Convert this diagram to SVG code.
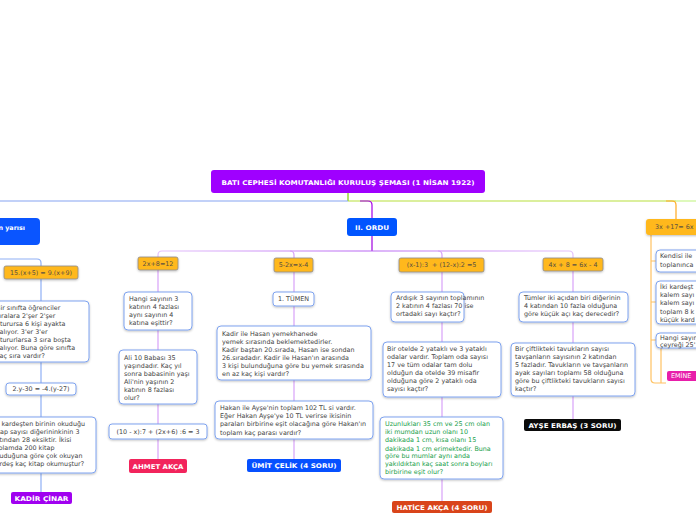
<svg xmlns="http://www.w3.org/2000/svg" width="696" height="520" viewBox="0 0 696 520">
<defs>
<filter id="sh" x="-10%" y="-20%" width="120%" height="150%"><feDropShadow dx="0" dy="1" stdDeviation="0.8" flood-color="#000" flood-opacity="0.25"/></filter>
<linearGradient id="pg" x1="158" y1="0" x2="573" y2="0" gradientUnits="userSpaceOnUse">
<stop offset="0" stop-color="#e4c2fb"/><stop offset="0.5" stop-color="#b866f2"/><stop offset="1" stop-color="#e4c2fb"/>
</linearGradient>
</defs>
<style>
text{font-family:"DejaVu Sans",Verdana,sans-serif;font-size:6.4px;fill:#444}
.q{fill:#fff;stroke:#7fa3ef;stroke-width:1;filter:url(#sh)}
.h{fill:#ffb81c;stroke:#8e8a8a;stroke-width:0.8;filter:url(#sh)}
.ht{fill:#5a5040}
.w{fill:#fff;font-weight:bold}
.g{fill:#18a04a}
.c{fill:none;stroke-width:1.2}
</style>
<rect width="696" height="520" fill="#fff"/>
<g id="connectors">
<path class="c" d="M348,193 V201" stroke="#7fd000" stroke-width="1.5"/>
<path class="c" d="M348,201 H0" stroke="#85a3f2" stroke-width="2"/>
<path class="c" d="M348,201 H676" stroke="#b7e03c" stroke-width="2"/>
<path class="c" d="M676,201 H696" stroke="#c9f58f" stroke-width="2"/>
<path class="c" d="M360,201 H368 Q372,201 372,205 V218" stroke="#a400e8" stroke-width="1.5"/>
<path class="c" d="M666,201 H672 Q676,201 676,205 V219" stroke="#ffaa22" stroke-width="1.5"/>
<path class="c" d="M372,236 V251" stroke="#a000e0" stroke-width="1.5"/>
<path class="c" d="M158,258 V255 Q158,251 162,251 H569 Q573,251 573,255 V258" stroke="url(#pg)" stroke-width="1.5"/>
<path class="c" d="M290,251 Q294,251 294,255 V258" stroke="#d6a0f8"/>
<path class="c" d="M438,251 Q442,251 442,255 V258" stroke="#d6a0f8"/>
<path class="c" d="M158,270 V459" stroke="#d8a2f8"/>
<path class="c" d="M294,272 V459" stroke="#d8a2f8"/>
<path class="c" d="M442,272 V501" stroke="#d8a2f8"/>
<path class="c" d="M573,271 V419" stroke="#d8a2f8"/>
<path class="c" d="M0,259 H37 Q41,259 41,263 V492" stroke="#8fb0f5" stroke-width="1"/>
<path class="c" d="M651,235 V379 Q651,383 655,383 H666" stroke="#ffc262" stroke-width="1"/>
<path class="c" d="M651,261 H656 M651,302 H656 M651,340 H656" stroke="#ffc262" stroke-width="1"/>
<path class="c" d="M661,348 V383" stroke="#ffc262" stroke-width="1"/>
</g>
<g id="root">
<rect x="211" y="170" width="274" height="23" rx="3" fill="#9f00ff"/>
<text class="w" x="348" y="184.5" text-anchor="middle" font-size="7" textLength="253" lengthAdjust="spacingAndGlyphs">BATI CEPHESİ KOMUTANLIĞI KURULUŞ ŞEMASI (1 NİSAN 1922)</text>
</g>
<g id="left-head">
<rect x="-10" y="218" width="50" height="27" rx="4" fill="#0a55ff"/>
<text class="w" x="25" y="230" text-anchor="end" font-size="6.8">n yarısı</text>
</g>
<g id="l1"><rect class="h" x="4" y="266" width="74" height="13" rx="2"/><text class="ht" x="41" y="274.8" text-anchor="middle">15.(x+5) = 9.(x+9)</text></g>
<g id="l2"><rect class="q" x="-10" y="301" width="99" height="61" rx="4"/>
<text x="-4" y="309.5">Bir sınıfta öğrenciler</text>
<text x="-4" y="317.5">sıralara 2'şer 2'şer</text>
<text x="-4" y="325.8">oturursa 6 kişi ayakta</text>
<text x="-4" y="334">kalıyor. 3'er 3'er</text>
<text x="-4" y="342">otururlarsa 3 sıra boşta</text>
<text x="-4" y="350">kalıyor. Buna göre sınıfta</text>
<text x="-4" y="358">kaç sıra vardır?</text>
</g>
<g id="l3"><rect class="q" x="6" y="383" width="70" height="12" rx="3"/><text x="41" y="391.3" text-anchor="middle">2.y-30 = -4.(y-27)</text></g>
<g id="l4"><rect class="q" x="-14" y="417" width="110" height="56" rx="4"/>
<text x="-8" y="426.3">İki kardeşten birinin okuduğu</text>
<text x="-8" y="434.3">kitap sayısı diğerininkinin 3</text>
<text x="-8" y="442.3">katından 28 eksiktir. İkisi</text>
<text x="-8" y="450.3">toplamda 200 kitap</text>
<text x="-8" y="458.3">okuduğuna göre çok okuyan</text>
<text x="-8" y="466.3">kardeş kaç kitap okumuştur?</text>
</g>
<g id="l5"><rect x="11" y="492" width="61" height="12" rx="2" fill="#a000f0"/><text class="w" x="41.5" y="500.5" text-anchor="middle" textLength="54" lengthAdjust="spacingAndGlyphs">KADİR ÇİNAR</text></g>
<g id="ordu">
<rect x="347" y="218" width="50" height="18" rx="3" fill="#0055ff"/>
<text class="w" x="372" y="229.6" text-anchor="middle" font-size="7.2" textLength="34" lengthAdjust="spacingAndGlyphs">II. ORDU</text>
</g>
<g id="c1h"><rect class="h" x="138" y="257" width="40" height="13" rx="2"/><text class="ht" x="158" y="265.8" text-anchor="middle">2x+8=12</text></g>
<g id="c1a"><rect class="q" x="124" y="292" width="68" height="38" rx="4"/>
<text x="129" y="301.3">Hangi sayının 3</text>
<text x="129" y="309.3">katının 4 fazlası</text>
<text x="129" y="317">aynı sayının 4</text>
<text x="129" y="325">katına eşittir?</text>
</g>
<g id="c1b"><rect class="q" x="119" y="350" width="78" height="54" rx="4"/>
<text x="124" y="359.5">Ali 10 Babası 35</text>
<text x="124" y="367.5">yaşındadır. Kaç yıl</text>
<text x="124" y="375.5">sonra babasinin yaşı</text>
<text x="124" y="383.5">Ali'nin yaşının 2</text>
<text x="124" y="391.8">katının 8 fazlası</text>
<text x="124" y="399.5">olur?</text>
</g>
<g id="c1c"><rect class="q" x="109" y="424" width="98" height="15" rx="3"/><text x="158" y="433.8" text-anchor="middle">(10 - x):7 + (2x+6) :6 = 3</text></g>
<g id="c1d"><rect x="129" y="459" width="58" height="14" rx="2" fill="#f2245c"/><text class="w" x="158" y="468.6" text-anchor="middle" textLength="51" lengthAdjust="spacingAndGlyphs">AHMET AKÇA</text></g>
<g id="c2h"><rect class="h" x="274" y="258" width="39" height="14" rx="2"/><text class="ht" x="293.5" y="267.3" text-anchor="middle">5-2x=x-4</text></g>
<g id="c2a"><rect class="q" x="273" y="292" width="41" height="14" rx="3"/><text x="293.5" y="301.3" text-anchor="middle">1. TÜMEN</text></g>
<g id="c2b"><rect class="q" x="217" y="326" width="154" height="54" rx="4"/>
<text x="222" y="336.3">Kadir ile Hasan yemekhanede</text>
<text x="222" y="344.3">yemek sırasında beklemektedirler.</text>
<text x="222" y="352.3">Kadir baştan 20.sırada, Hasan ise sondan</text>
<text x="222" y="360.3">26.sıradadır. Kadir ile Hasan'ın arasında</text>
<text x="222" y="368.3">3 kişi bulunduğuna göre bu yemek sırasında</text>
<text x="222" y="376.3">en az kaç kişi vardır?</text>
</g>
<g id="c2c"><rect class="q" x="215" y="401" width="158" height="38" rx="4"/>
<text x="220" y="410.3">Hakan ile Ayşe'nin toplam 102 TL si vardır.</text>
<text x="220" y="418.3">Eğer Hakan Ayşe'ye 10 TL verirse ikisinin</text>
<text x="220" y="426.3">paraları birbirine eşit olacağına göre Hakan'ın</text>
<text x="220" y="434.5">toplam kaç parası vardır?</text>
</g>
<g id="c2d"><rect x="247" y="459" width="94" height="13" rx="2" fill="#0650ff"/><text class="w" x="294" y="468" text-anchor="middle" textLength="85" lengthAdjust="spacingAndGlyphs">ÜMİT ÇELİK (4 SORU)</text></g>
<g id="c3h"><rect class="h" x="399" y="258" width="85" height="14" rx="2"/><text class="ht" x="441.5" y="267.3" text-anchor="middle" xml:space="preserve">(x-1):3  + (12-x):2 =5</text></g>
<g id="c3a"><rect class="q" x="391" y="292" width="73" height="30" rx="4"/>
<text x="396" y="300.3">Ardışık 3 sayının toplamının</text>
<text x="396" y="308.3">2 katının 4 fazlası 70 ise</text>
<text x="396" y="316.3">ortadaki sayı kaçtır?</text>
</g>
<g id="c3b"><rect class="q" x="383" y="342" width="118" height="55" rx="4"/>
<text x="387" y="351.3">Bir otelde 2 yataklı ve 3 yataklı</text>
<text x="387" y="359.3">odalar vardır. Toplam oda sayısı</text>
<text x="387" y="367.3">17 ve tüm odalar tam dolu</text>
<text x="387" y="375.3">olduğun da otelde 39 misafir</text>
<text x="387" y="383.3">olduğuna göre 2 yataklı oda</text>
<text x="387" y="391.3">sayısı kaçtır?</text>
</g>
<g id="c3c"><rect class="q" x="380" y="417" width="123" height="62" rx="4"/>
<text class="g" x="385" y="425.6">Uzunlukları 35 cm ve 25 cm olan</text>
<text class="g" x="385" y="434">iki mumdan uzun olanı 10</text>
<text class="g" x="385" y="442.3">dakikada 1 cm, kısa olanı 15</text>
<text class="g" x="385" y="450.6">dakikada 1 cm erimektedir. Buna</text>
<text class="g" x="385" y="458.3">göre bu mumlar aynı anda</text>
<text class="g" x="385" y="466.3">yakıldıktan kaç saat sonra boyları</text>
<text class="g" x="385" y="474">birbirine eşit olur?</text>
</g>
<g id="c3d"><rect x="392" y="501" width="100" height="12" rx="2" fill="#d9441a"/><text class="w" x="442" y="509.5" text-anchor="middle" textLength="91" lengthAdjust="spacingAndGlyphs">HATİCE AKÇA (4 SORU)</text></g>
<g id="c4h"><rect class="h" x="543" y="258" width="60" height="13" rx="2"/><text class="ht" x="573" y="266.8" text-anchor="middle">4x + 8 = 6x - 4</text></g>
<g id="c4a"><rect class="q" x="519" y="292" width="109" height="30" rx="4"/>
<text x="524" y="300.3">Tümler iki açıdan biri diğerinin</text>
<text x="524" y="308.3">4 katından 10 fazla olduğuna</text>
<text x="524" y="316.3">göre küçük açı kaç derecedir?</text>
</g>
<g id="c4b"><rect class="q" x="511" y="343" width="124" height="53" rx="4"/>
<text x="515" y="351.3">Bir çiftlikteki tavukların sayısı</text>
<text x="515" y="359.3">tavşanların sayısının 2 katından</text>
<text x="515" y="367.3">5 fazladır. Tavukların ve tavşanların</text>
<text x="515" y="375.3">ayak sayıları toplamı 58 olduğuna</text>
<text x="515" y="383.3">göre bu çiftlikteki tavukların sayısı</text>
<text x="515" y="391.3">kaçtır?</text>
</g>
<g id="c4d"><rect x="524" y="419" width="97" height="12" rx="2" fill="#0a0a0a"/><text class="w" x="572.5" y="427.5" text-anchor="middle" textLength="88" lengthAdjust="spacingAndGlyphs">AYŞE ERBAŞ (3 SORU)</text></g>
<g id="r0"><rect x="646" y="219" width="70" height="16" rx="3" fill="#ffb81c" filter="url(#sh)"/><text class="ht" x="655" y="229" font-size="5.6">3x +17= 6x +2</text></g>
<g id="r1"><rect class="q" x="656" y="250" width="60" height="22" rx="4"/>
<text x="660" y="258.3">Kendisi ile</text>
<text x="660" y="267.3">toplanınca</text>
</g>
<g id="r2"><rect class="q" x="656" y="281" width="60" height="43" rx="4"/>
<text x="660" y="288.5">İki kardeşt</text>
<text x="660" y="297">kalem sayı</text>
<text x="660" y="305.3">kalem sayı</text>
<text x="660" y="314">toplam 8 k</text>
<text x="660" y="322.3">küçük kard</text>
</g>
<g id="r3"><rect class="q" x="656" y="333" width="60" height="15" rx="4"/>
<text x="660" y="339.5">Hangi sayın</text>
<text x="660" y="347.3">çeyreği 25'</text>
</g>
<g id="r4"><rect x="667" y="371" width="40" height="10" rx="2" fill="#e81eaa"/><text x="671" y="378.3" fill="#fff" font-size="6" style="fill:#fff">EMİNE</text></g>
</svg>
